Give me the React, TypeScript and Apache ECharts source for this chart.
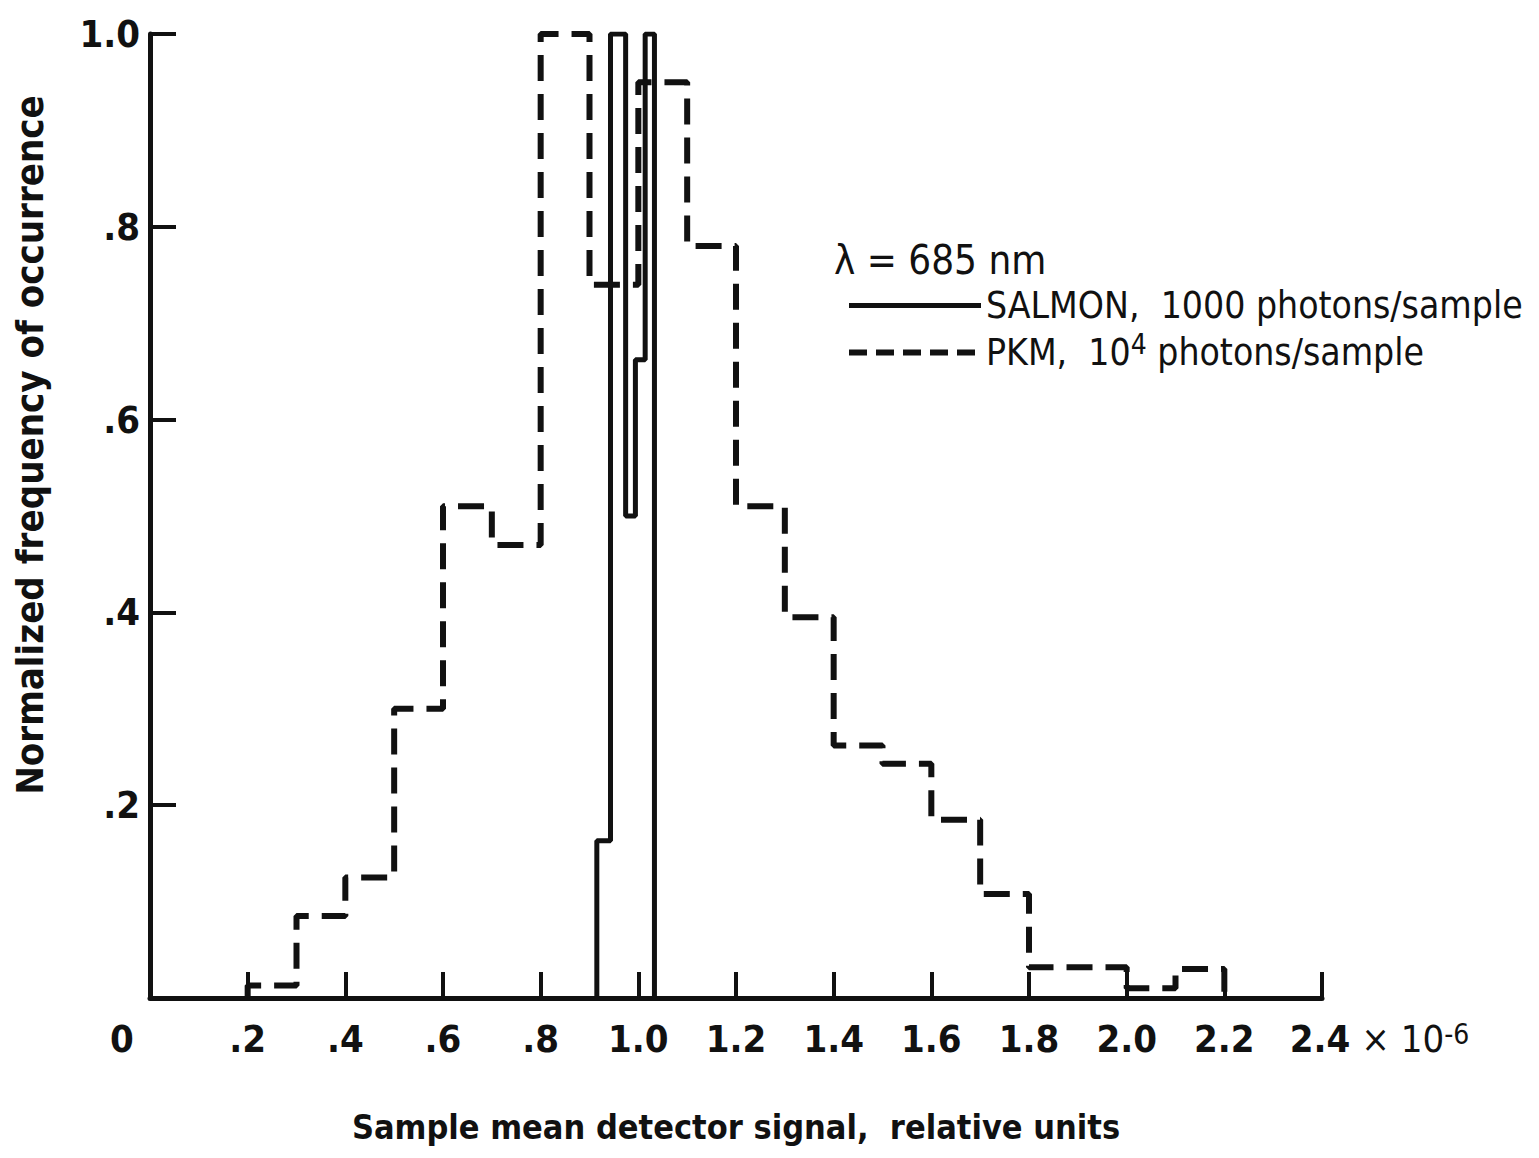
import React, { useEffect, useRef } from "react";
import * as echarts from "echarts";

// ---- data ----
const xTickLabels = ["0", ".2", ".4", ".6", ".8", "1.0", "1.2", "1.4", "1.6", "1.8", "2.0", "2.2", "2.4"];
const yTickLabels = ["", ".2", ".4", ".6", ".8", "1.0"];

// PKM, 10^4 photons/sample (dashed histogram): bin edges and normalized heights
const pkmEdges = [0.2, 0.3, 0.4, 0.5, 0.6, 0.7, 0.8, 0.9, 1.0, 1.1, 1.2, 1.3, 1.4, 1.5, 1.6, 1.7, 1.8, 1.9, 2.0, 2.1, 2.2];
const pkmValues = [0.013, 0.085, 0.125, 0.3, 0.51, 0.47, 1.0, 0.74, 0.95, 0.78, 0.51, 0.395, 0.262, 0.243, 0.185, 0.108, 0.032, 0.032, 0.01, 0.03];

// SALMON, 1000 photons/sample (solid histogram)
const salmonEdges = [0.915, 0.943, 0.974, 0.994, 1.014, 1.033];
const salmonValues = [0.163, 1.0, 0.5, 0.662, 1.0];

const FONT = "'DejaVu Sans Condensed', 'Liberation Sans', sans-serif";
const INK = "#111";

function stepData(edges: number[], values: number[]): number[][] {
  const d: number[][] = [[edges[0], 0]];
  values.forEach((v, i) => d.push([edges[i], v]));
  d.push([edges[edges.length - 1], 0]);
  return d;
}

export default function App() {
  const ref = useRef<HTMLDivElement>(null);

  useEffect(() => {
    if (!ref.current) return;
    const chart = echarts.init(ref.current, undefined, { renderer: "svg" });
    const option: any = {
      animation: false,
      backgroundColor: "#fff",
      grid: { left: 150, right: 217, top: 34, bottom: 160, containLabel: false },
      title: {
        text: "λ = 685 nm",
        left: 834,
        top: 240,
        padding: 0,
        textStyle: { fontSize: 40, fontWeight: "normal", fontFamily: FONT, color: INK },
      },
      legend: {
        orient: "vertical",
        left: 846,
        top: 283,
        padding: 0,
        itemWidth: 132,
        itemHeight: 20,
        itemGap: 2,
        selectedMode: false,
        itemStyle: { opacity: 0, color: "rgba(0,0,0,0)", borderWidth: 0 },
        data: [
          { name: "SALMON", lineStyle: { width: 5, type: "solid", color: INK } },
          { name: "PKM", lineStyle: { width: 6, type: [18, 9], color: INK } },
        ],
        formatter: (name: string) =>
          name === "PKM" ? "PKM,  10{sup|4} photons/sample" : "SALMON,  1000 photons/sample",
        textStyle: {
          fontSize: 37,
          fontFamily: FONT,
          color: INK,
          lineHeight: 45,
          rich: {
            sup: { fontSize: 28, fontFamily: FONT, color: INK, verticalAlign: "top", lineHeight: 28 },
          },
        },
      },
      xAxis: {
        type: "value",
        min: 0,
        max: 2.4,
        interval: 0.2,
        splitLine: { show: false },
        axisLine: { show: true, onZero: false, lineStyle: { color: INK, width: 5 } },
        axisTick: { show: true, inside: true, length: 26, lineStyle: { color: INK, width: 4 } },
        axisLabel: {
          margin: 22,
          fontSize: 38,
          fontWeight: "bold",
          fontFamily: FONT,
          color: INK,
          formatter: (v: number) => {
            const i = Math.round(v / 0.2);
            if (i === 0) return "{z|0}";
            if (i === 12) return "{a|2.4}{b| × 10}{c|-6}";
            return xTickLabels[i];
          },
          rich: {
            z: { fontSize: 38, fontWeight: "bold", fontFamily: FONT, color: INK, padding: [0, 56, 0, 0] },
            a: { fontSize: 38, fontWeight: "bold", fontFamily: FONT, color: INK, padding: [0, 0, 0, 115] },
            b: { fontSize: 38, fontWeight: "normal", fontFamily: FONT, color: INK },
            c: { fontSize: 28, fontWeight: "normal", fontFamily: FONT, color: INK, verticalAlign: "top" },
          },
        },
        name: "Sample mean detector signal,  relative units",
        nameLocation: "middle",
        nameGap: 112,
        nameTextStyle: { fontSize: 34, fontWeight: "bold", fontFamily: FONT, color: INK },
      },
      yAxis: {
        type: "value",
        min: 0,
        max: 1,
        interval: 0.2,
        splitLine: { show: false },
        axisLine: { show: true, onZero: false, lineStyle: { color: INK, width: 5 } },
        axisTick: { show: true, inside: true, length: 26, lineStyle: { color: INK, width: 4 } },
        axisLabel: {
          margin: 10,
          fontSize: 38,
          fontWeight: "bold",
          fontFamily: FONT,
          color: INK,
          formatter: (v: number) => yTickLabels[Math.round(v / 0.2)],
        },
      },
      graphic: [
        {
          type: "text",
          x: 30,
          y: 445,
          rotation: Math.PI / 2,
          style: {
            text: "Normalized frequency of occurrence",
            fontSize: 38,
            fontWeight: "bold",
            fontFamily: FONT,
            fill: INK,
            align: "center",
            verticalAlign: "middle",
          },
        },
      ],
      series: [
        {
          name: "SALMON",
          type: "line",
          step: "end",
          symbol: "none",
          data: stepData(salmonEdges, salmonValues),
          lineStyle: { color: INK, width: 5, type: "solid" },
          itemStyle: { color: INK },
          z: 3,
        },
        {
          name: "PKM",
          type: "line",
          step: "end",
          symbol: "none",
          data: stepData(pkmEdges, pkmValues),
          lineStyle: { color: INK, width: 6, type: [26, 13] },
          itemStyle: { color: INK },
          z: 2,
        },
      ],
    };
    chart.setOption(option);
    return () => chart.dispose();
  }, []);

  return (
    <div
      ref={ref}
      style={{ position: "fixed", left: 0, top: 0, width: 1539, height: 1158, background: "#fff" }}
    />
  );
}
